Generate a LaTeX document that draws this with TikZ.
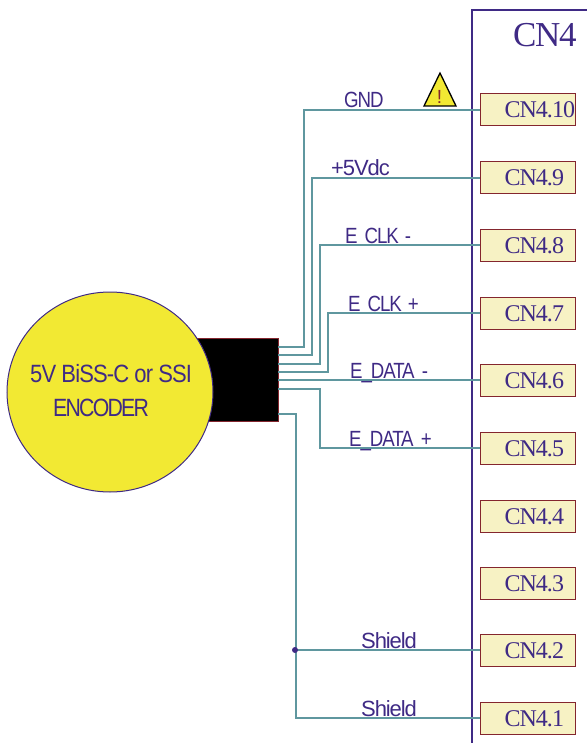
\documentclass[tikz,border=0pt]{standalone}
\usepackage{fontspec}
\usetikzlibrary{shapes.geometric}
\setmainfont{Liberation Serif}[LetterSpace=-4]
\newfontfamily\capsans{Liberation Sans}[FakeStretch=0.85,LetterSpace=-5]
\newfontfamily\lowsans{Liberation Sans}[LetterSpace=-5]
\newfontfamily\encsans{Liberation Sans}[FakeStretch=0.88,LetterSpace=-3.5]
\newfontfamily\enccaps{Liberation Sans}[FakeStretch=0.85,LetterSpace=-7]
\definecolor{wirecol}{HTML}{5F979F}
\definecolor{inkcol}{HTML}{3F2A85}
\definecolor{pincol}{HTML}{F7F2C4}
\definecolor{pinline}{HTML}{84262E}
\definecolor{bodycol}{HTML}{F2E933}
\tikzset{
  pinbox/.style={draw=pinline, fill=pincol, line width=1pt, minimum width=95pt, minimum height=32pt,
    text=inkcol, font=\fontsize{24}{24}\selectfont, text width=70pt, align=left, text height=16pt, text depth=0pt,
    inner xsep=12.5pt, inner ysep=0pt, outer sep=0pt},
  wire/.style={draw=wirecol, line width=1.6pt},
  wirelabel/.style={text=inkcol, font=\fontsize{22}{22}\capsans\selectfont, anchor=base west, inner sep=0pt},
  lowlabel/.style={wirelabel, font=\fontsize{22}{22}\lowsans\selectfont},
  enclabel/.style={text=inkcol, anchor=base west, inner sep=0pt},
}
\begin{document}
\begin{tikzpicture}[x=1pt, y=-1pt]
  \useasboundingbox (0,0) rectangle (587,743);
  % connector body
  \draw[inkcol, line width=1.3pt] (472,743) -- (472,10) -- (587,10);
  \node[inkcol, font=\fontsize{35}{35}\selectfont, anchor=base west, inner sep=0pt] (title) at (513,47) {CN4};
  % pins
  \node[pinbox] (pin10) at (527.5,110) {\hspace*{12pt}CN4.10};
  \node[pinbox] (pin9) at (527.5,178) {\hspace*{12pt}CN4.9};
  \node[pinbox] (pin8) at (527.5,245) {\hspace*{12pt}CN4.8};
  \node[pinbox] (pin7) at (527.5,313) {\hspace*{12pt}CN4.7};
  \node[pinbox] (pin6) at (527.5,380) {\hspace*{12pt}CN4.6};
  \node[pinbox] (pin5) at (527.5,448) {\hspace*{12pt}CN4.5};
  \node[pinbox] (pin4) at (527.5,516) {\hspace*{12pt}CN4.4};
  \node[pinbox] (pin3) at (527.5,583) {\hspace*{12pt}CN4.3};
  \node[pinbox] (pin2) at (527.5,650) {\hspace*{12pt}CN4.2};
  \node[pinbox] (pin1) at (527.5,718) {\hspace*{12pt}CN4.1};
  % encoder
  \node[draw=pinline, fill=black, line width=1pt, minimum width=90pt, minimum height=83pt, inner sep=0pt, outer sep=0pt] (plug) at (233,379.5) {};
  \node[ellipse, draw=inkcol, fill=bodycol, line width=1pt, minimum width=206pt, minimum height=200pt, inner sep=0pt] (encoder) at (110,392) {};
  \node[enclabel, font=\fontsize{25}{25}\encsans\selectfont] (encline1) at (30,382) {5V BiSS-C or SSI};
  \node[enclabel, font=\fontsize{25}{25}\enccaps\selectfont] (encline2) at (53,416) {ENCODER};
  % wires
  \coordinate (w10) at (278,347);
  \coordinate (w9) at (278,355);
  \coordinate (w8) at (278,364);
  \coordinate (w7) at (278,372);
  \coordinate (w6) at (278,380);
  \coordinate (w5) at (278,389);
  \coordinate (w1) at (278,414);
  \draw[wire] (w10) -| (304,110) -- (pin10.west);
  \draw[wire] (w9) -| (312,178) -- (pin9.west);
  \draw[wire] (w8) -| (320,245) -- (pin8.west);
  \draw[wire] (w7) -| (328,313) -- (pin7.west);
  \draw[wire] (w6) -- (pin6.west);
  \draw[wire] (w5) -| (320,448) -- (pin5.west);
  \draw[wire] (w1) -| (296,718) -- (pin1.west);
  \draw[wire] (296,650) -- (pin2.west);
  \fill[inkcol] (295,650) circle (3pt);
  % warning sign
  \draw[black, fill=bodycol, line width=1.3pt, line join=miter] (424,106) -- (440,73) -- (456,106) -- cycle;
  \node[text=pinline, font=\fontsize{19}{19}\lowsans\selectfont, inner sep=0pt] (warn) at (439.5,97) {!};
  % labels
  \node[wirelabel] (gnd) at (344,108) {GND};
  \node[lowlabel] (vdc) at (331,176) {+5Vdc};
  \node[wirelabel] (eclkm) at (345,243) {E\hspace{7pt}CLK\hspace{2pt} -};
  \node[wirelabel] (eclkp) at (348,311) {E\hspace{7pt}CLK\hspace{2pt} +};
  \node[wirelabel] (edatam) at (350,378) {E\_DATA\hspace{3pt} -};
  \node[wirelabel] (edatap) at (349,446) {E\_DATA\hspace{3pt} +};
  \node[lowlabel] (shield2) at (361,648) {Shield};
  \node[lowlabel] (shield1) at (361,716) {Shield};
\end{tikzpicture}
\end{document}
